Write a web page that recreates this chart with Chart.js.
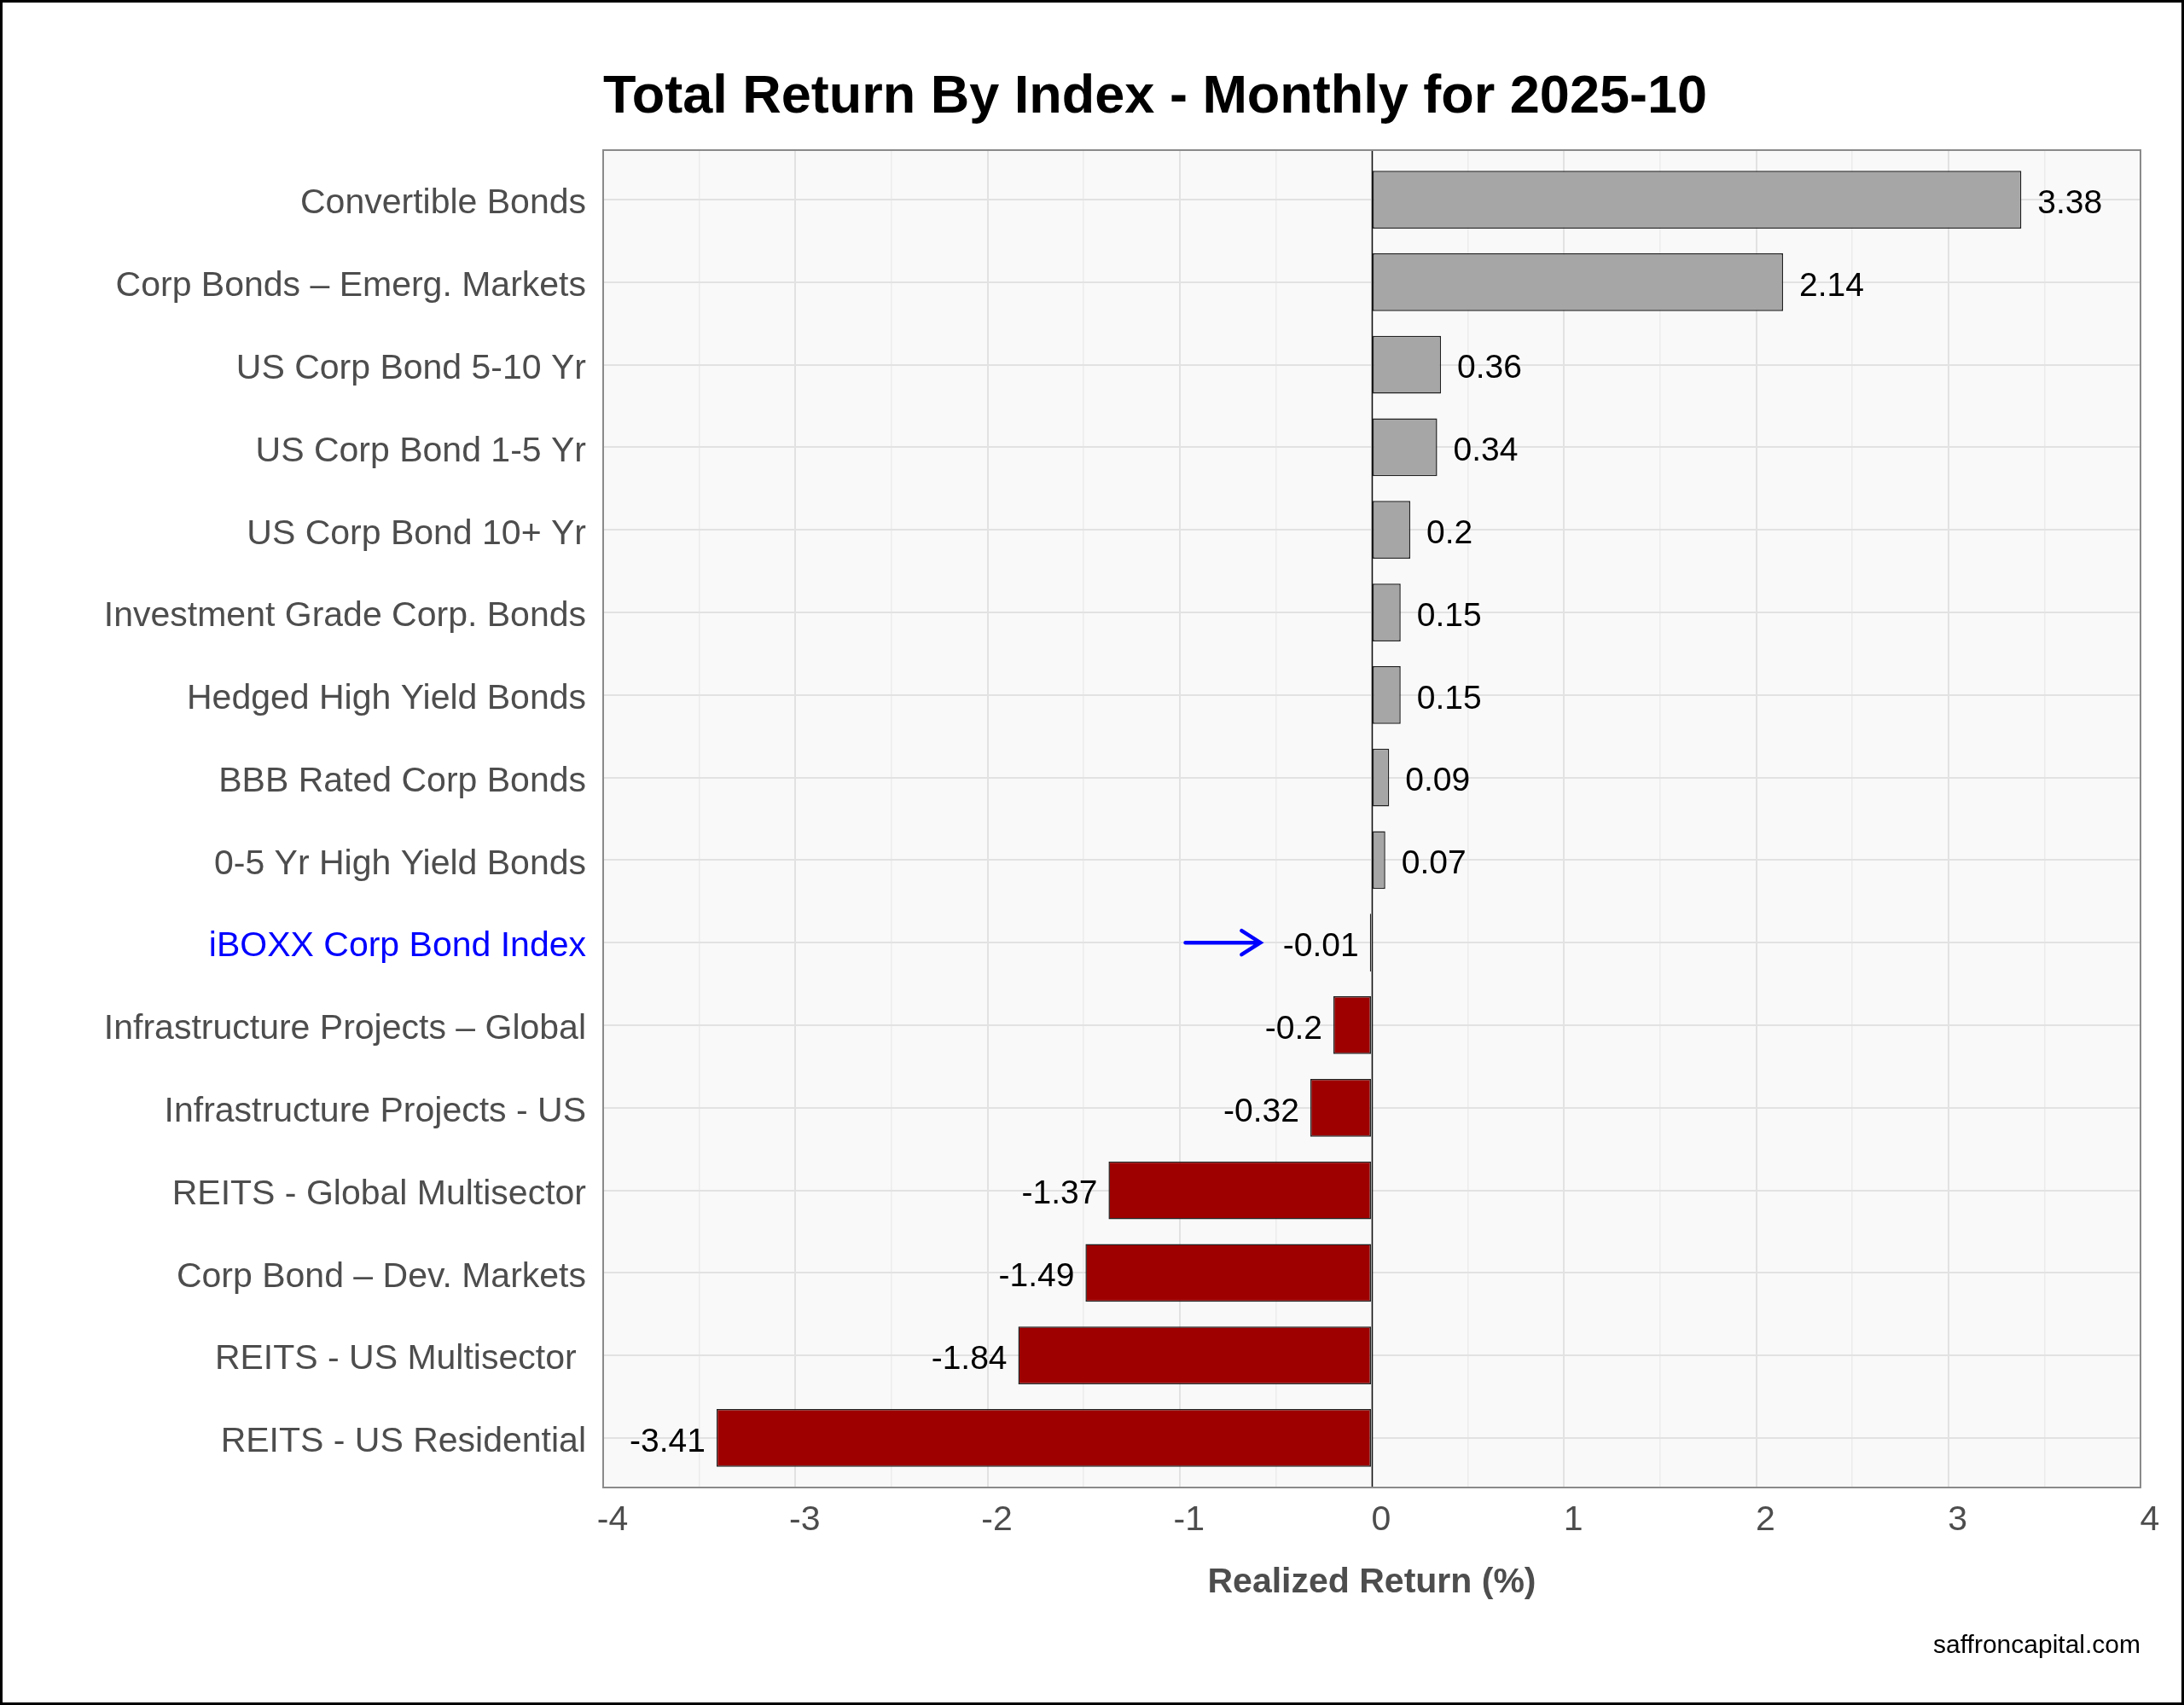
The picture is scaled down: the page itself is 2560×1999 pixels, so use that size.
<!DOCTYPE html>
<html>
<head>
<meta charset="utf-8">
<script src="https://cdn.jsdelivr.net/npm/chart.js@4.4.1/dist/chart.umd.min.js"></script>
<style>
  html, body { margin: 0; padding: 0; background: #fff; }
  canvas { display: block; }
</style>
</head>
<body>
<canvas id="chartReturns" width="2560" height="1999"></canvas>
<script>
// --- datos del grafico ---
const categorias = [
    'Convertible Bonds',
    'Corp Bonds \u2013 Emerg. Markets',
    'US Corp Bond 5-10 Yr',
    'US Corp Bond 1-5 Yr',
    'US Corp Bond 10+ Yr',
    'Investment Grade Corp. Bonds',
    'Hedged High Yield Bonds',
    'BBB Rated Corp Bonds',
    '0-5 Yr High Yield Bonds',
    'iBOXX Corp Bond Index',
    'Infrastructure Projects \u2013 Global',
    'Infrastructure Projects - US',
    'REITS - Global Multisector',
    'Corp Bond \u2013 Dev. Markets',
    'REITS - US Multisector ',
    'REITS - US Residential'
];
const retornos = [3.38, 2.14, 0.36, 0.34, 0.2, 0.15, 0.15, 0.09, 0.07, -0.01, -0.2, -0.32, -1.37, -1.49, -1.84, -3.41];
const ejeX = [-4, -3, -2, -1, 0, 1, 2, 3, 4];
const destacado = 'iBOXX Corp Bond Index';
const flecha = [-0.97, -0.58]; // desde / hasta, en % del eje

const titulo = 'Total Return By Index - Monthly for 2025-10';
const fuente = 'saffroncapital.com';
const FONT = "'Liberation Sans', Arial, sans-serif";

// fondo del panel, linea cero, borde y textos extra
const extrasPlugin = {
    id: 'extras',
    beforeDraw(chart) {
        const { ctx, chartArea: a } = chart;
        ctx.save();
        ctx.fillStyle = '#fff';
        ctx.fillRect(0, 0, chart.width, chart.height);
        ctx.fillStyle = '#f9f9f9';
        ctx.fillRect(a.left, a.top, a.right - a.left, a.bottom - a.top);
        ctx.restore();
    },
    beforeDatasetsDraw(chart) {
        const { ctx, chartArea: a, scales } = chart;
        const x0 = Math.round(scales.x.getPixelForValue(0)) + 0.5;
        ctx.save();
        ctx.strokeStyle = '#111';
        ctx.lineWidth = 1.5;
        ctx.beginPath();
        ctx.moveTo(x0, a.top);
        ctx.lineTo(x0, a.bottom);
        ctx.stroke();
        ctx.restore();
    },
    afterDatasetsDraw(chart) {
        const { ctx, chartArea: a, scales } = chart;
        const meta = chart.getDatasetMeta(0);
        ctx.save();

        // etiquetas de valor
        ctx.font = '39px ' + FONT;
        ctx.fillStyle = '#000';
        ctx.textBaseline = 'middle';
        meta.data.forEach((bar, i) => {
            const v = retornos[i];
            if (v >= 0) {
                ctx.textAlign = 'left';
                ctx.fillText(String(v), bar.x + 19, bar.y + 5);
            } else {
                ctx.textAlign = 'right';
                ctx.fillText(String(v), bar.x - 13, bar.y + 5);
            }
        });

        // flecha azul
        const idx = categorias.indexOf(destacado);
        const yF = scales.y.getPixelForValue(idx);
        const xA = scales.x.getPixelForValue(flecha[0]);
        const xB = scales.x.getPixelForValue(flecha[1]);
        ctx.strokeStyle = '#0000ff';
        ctx.lineWidth = 4.5;
        ctx.lineCap = 'round';
        ctx.beginPath();
        ctx.moveTo(xA, yF);
        ctx.lineTo(xB, yF);
        ctx.moveTo(xB - 22, yF - 14);
        ctx.lineTo(xB, yF);
        ctx.lineTo(xB - 22, yF + 14);
        ctx.stroke();

        // borde del panel
        ctx.strokeStyle = '#8a8a8a';
        ctx.lineWidth = 2;
        ctx.lineCap = 'butt';
        ctx.strokeRect(a.left, a.top, a.right - a.left, a.bottom - a.top);
        ctx.restore();
    },
    afterDraw(chart) {
        const { ctx, chartArea: a } = chart;
        ctx.save();
        ctx.fillStyle = '#000';
        ctx.textBaseline = 'alphabetic';
        ctx.font = 'bold 63px ' + FONT;
        ctx.textAlign = 'left';
        ctx.fillText(titulo, a.left, 132);

        ctx.font = '30px ' + FONT;
        ctx.textAlign = 'right';
        ctx.fillText(fuente, a.right, 1938);

        ctx.strokeStyle = '#000';
        ctx.lineWidth = 3;
        ctx.strokeRect(1.5, 1.5, chart.width - 3, chart.height - 3);
        ctx.restore();
    }
};

function renderizarGrafico() {
    const ctx = document.getElementById('chartReturns');
    new Chart(ctx, {
        type: 'bar',
        data: {
            datasets: [{
                data: retornos.map((v, i) => ({ x: v, y: i })),
                backgroundColor: retornos.map(v => v >= 0 ? '#a6a6a6' : '#9e0000'),
                borderColor: '#222',
                borderWidth: 1.5,
                borderSkipped: false,
                categoryPercentage: 0.7,
                barPercentage: 1
            }]
        },
        options: {
            indexAxis: 'y',
            responsive: false,
            animation: false,
            devicePixelRatio: 1,
            layout: { padding: { top: 176, right: 51, bottom: 0, left: 0 } },
            scales: {
                x: {
                    type: 'linear',
                    min: ejeX[0],
                    max: ejeX[ejeX.length - 1],
                    afterFit: s => { s.height = 255; },
                    border: { display: false },
                    grid: {
                        drawTicks: false,
                        color: c => Number.isInteger(c.tick.value) ? '#e2e2e2' : '#ececec',
                        lineWidth: c => Number.isInteger(c.tick.value) ? 2 : 1.5
                    },
                    ticks: {
                        stepSize: 0.5,
                        padding: 14,
                        labelOffset: 11,
                        color: '#4d4d4d',
                        font: { family: FONT, size: 41 },
                        callback: v => ejeX.includes(v) ? String(v) : ''
                    },
                    title: {
                        display: true,
                        text: 'Realized Return (%)',
                        color: '#4d4d4d',
                        font: { family: FONT, size: 41, weight: 'bold' },
                        padding: { top: 0, bottom: 119 }
                    }
                },
                y: {
                    type: 'linear',
                    reverse: true,
                    offset: false,
                    min: -0.6,
                    max: categorias.length - 0.4,
                    afterBuildTicks: s => { s.ticks = categorias.map((_, i) => ({ value: i })); },
                    afterFit: s => { s.width = 707; },
                    border: { display: false },
                    grid: { offset: false, drawTicks: false, color: '#e2e2e2', lineWidth: 2 },
                    ticks: {
                        padding: 20,
                        labelOffset: 5,
                        autoSkip: false,
                        color: c => categorias[c.index] === destacado ? '#0000ff' : '#4d4d4d',
                        font: { family: FONT, size: 41 },
                        callback: (v, i) => categorias[i]
                    }
                }
            },
            plugins: {
                legend: { display: false },
                tooltip: { enabled: false }
            }
        },
        plugins: [extrasPlugin]
    });
}

renderizarGrafico();
</script>
</body>
</html>
